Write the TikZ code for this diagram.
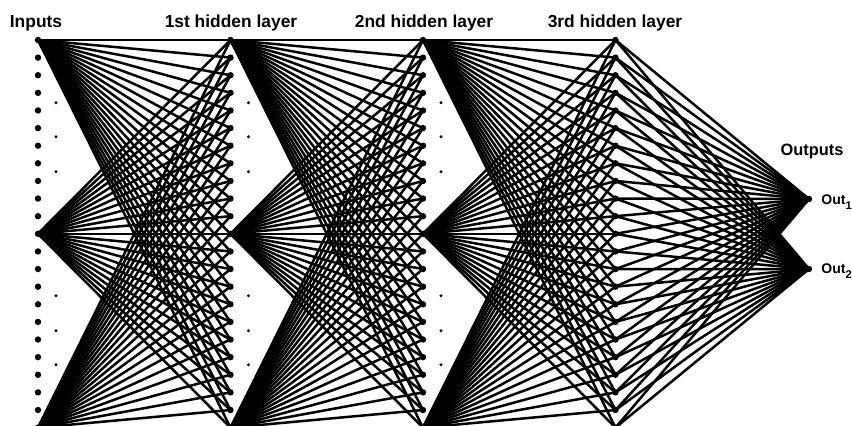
\documentclass[tikz,border=0pt]{standalone}
\usepackage{fontspec}
\setmainfont{Liberation Sans}
\usetikzlibrary{positioning}

\begin{document}
\begin{tikzpicture}[x=0.5pt, y=-0.5pt,
  lbl/.style={font=\bfseries\fontsize{8.7}{10}\selectfont, inner sep=1pt, anchor=base},
  outlbl/.style={font=\bfseries\fontsize{7}{8}\selectfont, inner sep=1pt, anchor=base west},
  neuron/.style={circle, fill=black, inner sep=0pt, minimum size=3.2pt},
  smalldot/.style={circle, fill=black, inner sep=0pt, minimum size=1.7pt},
  wire/.style={draw=black, line width=1.25pt}
]
\useasboundingbox (0,0) rectangle (852,426);

% neurons of the four layers
\foreach \lay/\xx in {in/38, ha/230.5, hb/423, hc/615.5}
  \foreach \i in {0,...,22}
    \node[neuron] (\lay\i) at (\xx, 40+17.62*\i) {};
\node[neuron] (out1) at (809,199) {};
\node[neuron] (out2) at (809,269) {};

% vertical ellipsis dots
\foreach \xx [count=\k] in {56, 248.5, 441}
  \foreach \dy in {62,97,131} {
    \node[smalldot] (el\k-\dy-u) at (\xx, 233.8-\dy) {};
    \node[smalldot] (el\k-\dy-d) at (\xx, 233.8+\dy) {};
  }

% top, middle and bottom neuron feed the next layer
\foreach \a/\b in {in/ha, ha/hb, hb/hc}
  \foreach \s in {0,11,22}
    \foreach \t in {0,...,22}
      \draw[wire] (\a\s.center) -- (\b\t.center);
\foreach \t in {0,...,22} {
  \draw[wire] (hc\t.center) -- (out1.center);
  \draw[wire] (hc\t.center) -- (out2.center);
}

\node[lbl] (tin) at (36,28) {Inputs};
\node[lbl] (tha) at (231,28) {1st hidden layer};
\node[lbl] (thb) at (424,28) {2nd hidden layer};
\node[lbl] (thc) at (615,28) {3rd hidden layer};
\node[lbl, font=\bfseries\fontsize{8.2}{10}\selectfont] (tout) at (812,156) {Outputs};
\node[outlbl] (o1) at (819,205) {Out\raisebox{-2.5pt}{\fontsize{5.6}{6}\selectfont 1}};
\node[outlbl] (o2) at (819,274) {Out\raisebox{-2.5pt}{\fontsize{5.6}{6}\selectfont 2}};

\end{tikzpicture}
\end{document}
